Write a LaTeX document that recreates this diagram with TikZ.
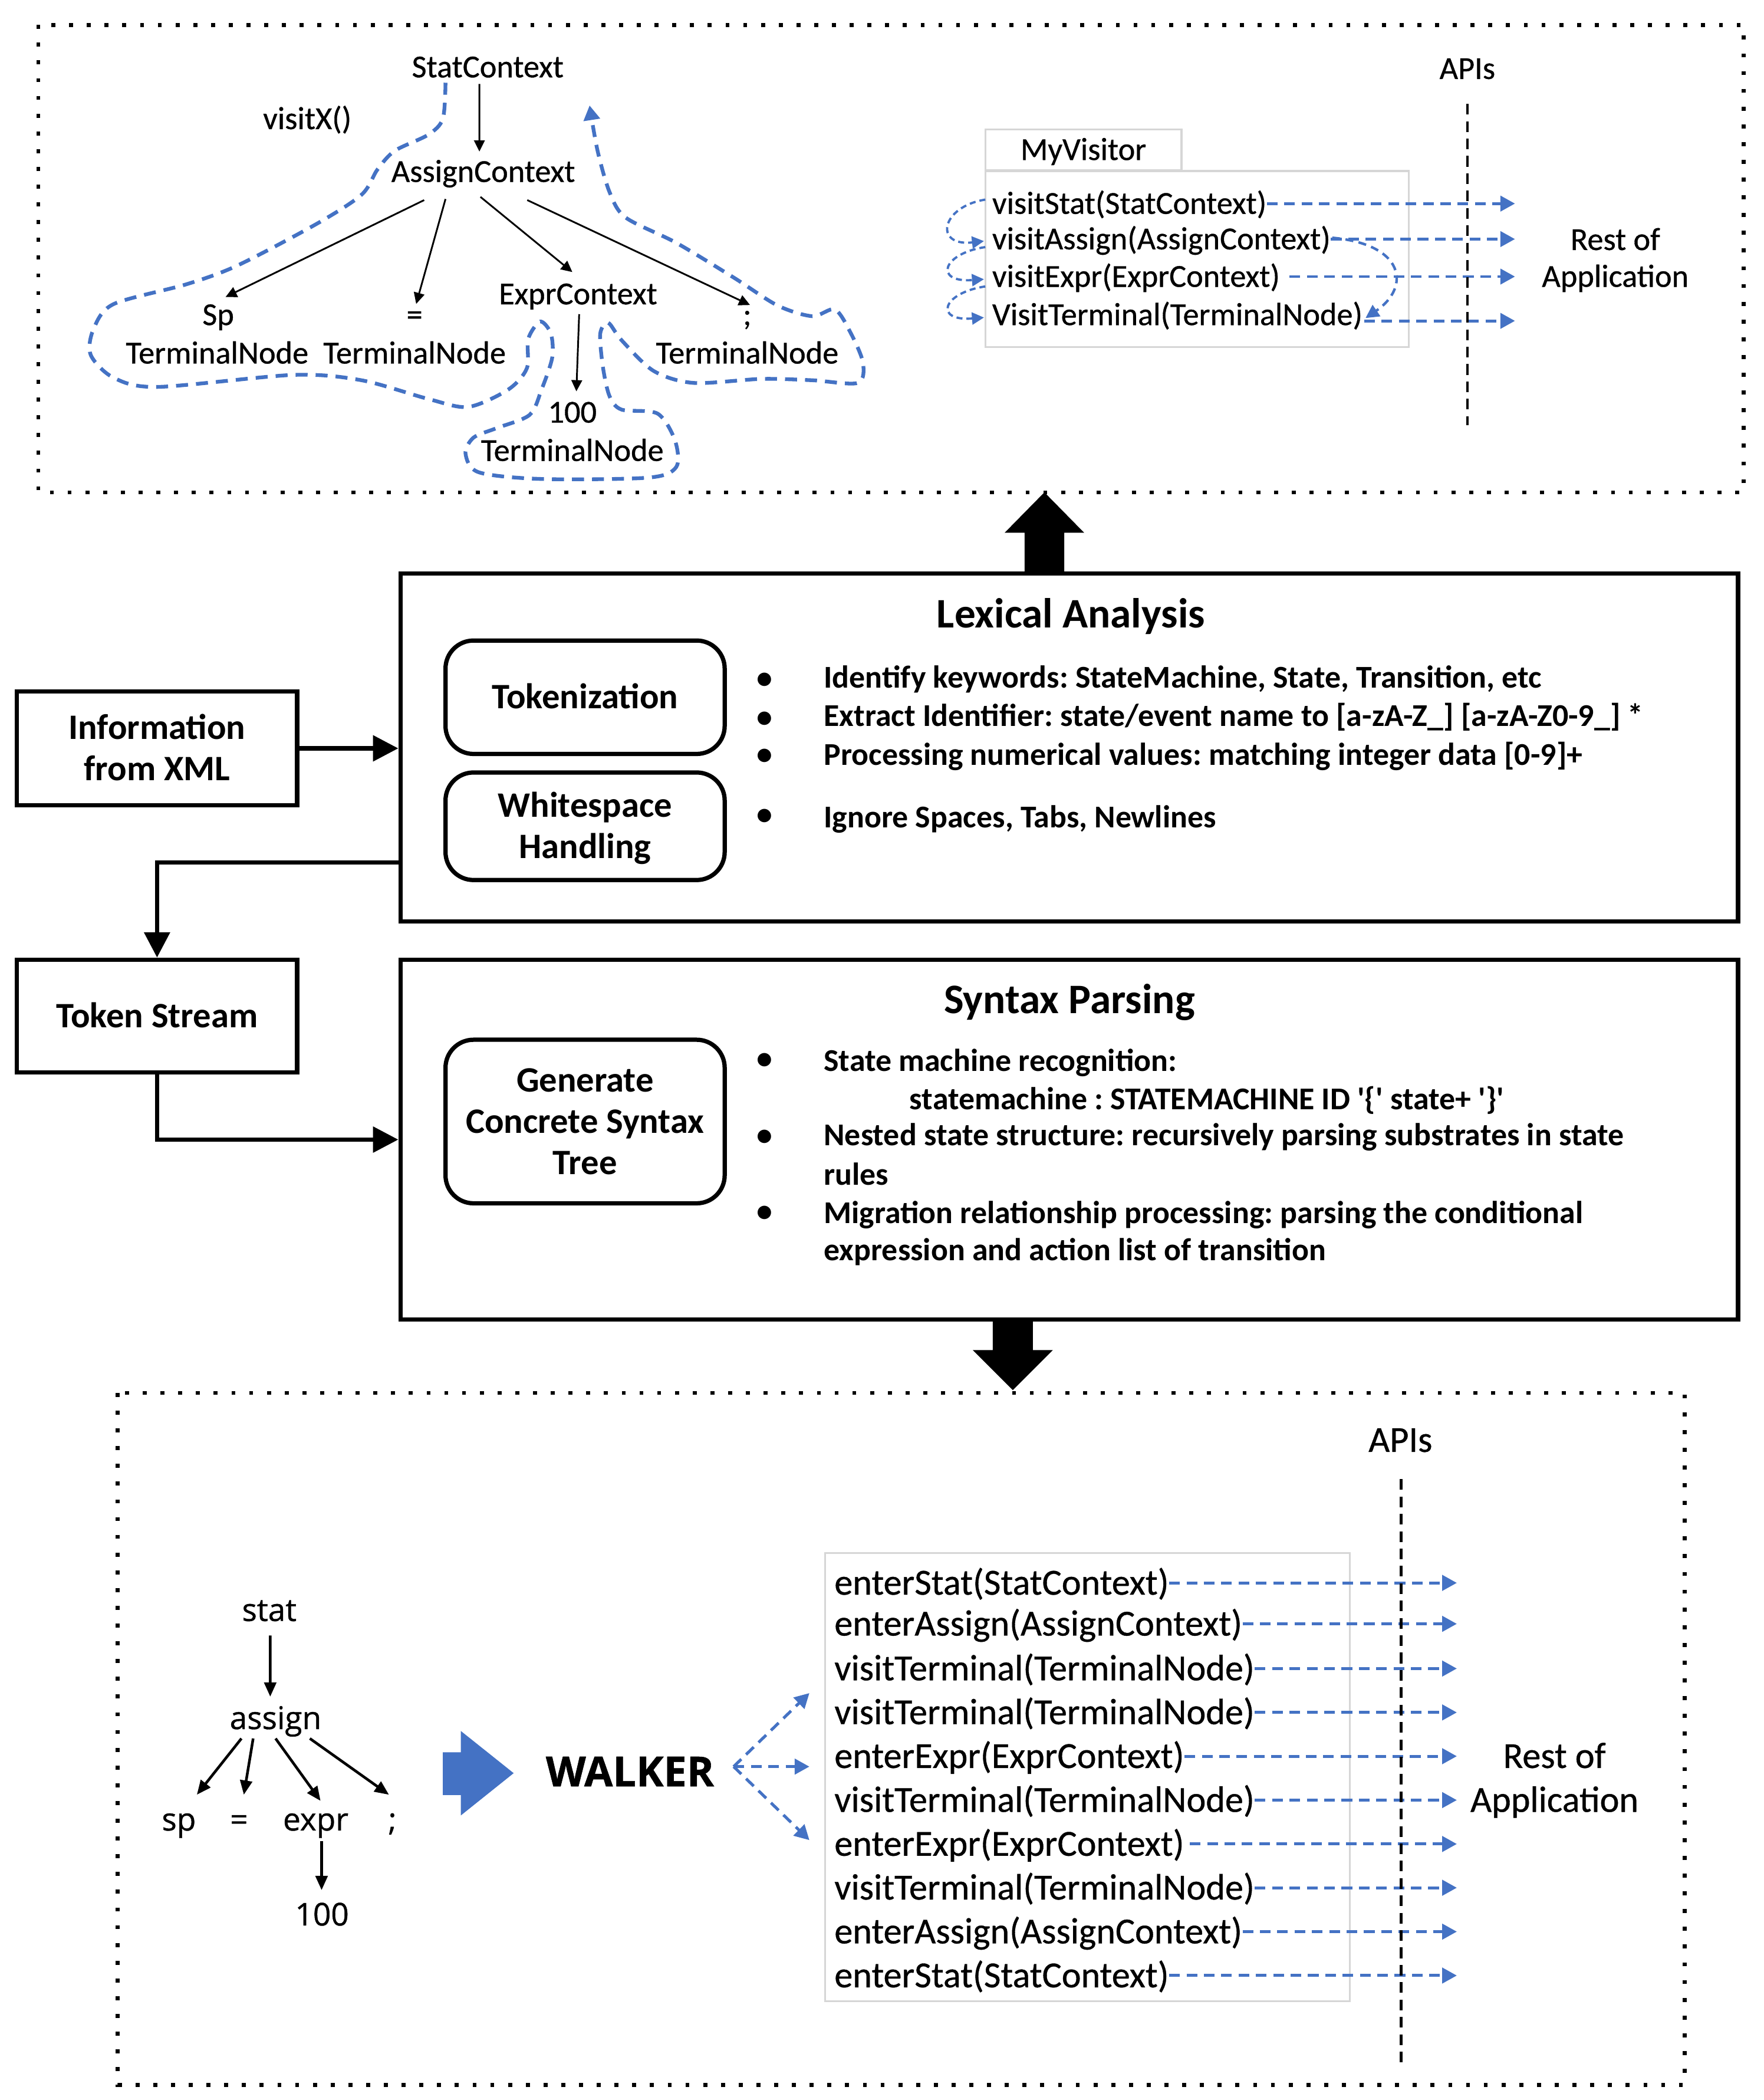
\documentclass[tikz,border=0pt]{standalone}
\usepackage{fontspec}
\setmainfont{Carlito}
\newfontfamily\osfont[FakeBold=0.8]{Open Sans}
\newfontfamily\cfb[FakeBold=0.6]{Carlito}
\usetikzlibrary{arrows.meta}
\definecolor{oblue}{HTML}{4472C4}
\definecolor{lgray}{HTML}{D6D6D6}
\frenchspacing
\newcommand{\ms}{\rule[-0.25em]{0pt}{1.14em}}
\newcommand{\mso}{\rule[-0.25em]{0pt}{1.22em}}
\tikzset{
 dotborder/.style={line width=3pt, dash pattern=on 3pt off 10.3pt},
 bigbox/.style={draw, line width=3.2pt, minimum width=1002.8pt, inner sep=0pt},
 sidebox/.style={draw, line width=3.2pt, minimum width=210.1pt, inner sep=0pt, align=center, font=\fontsize{26.8}{31}\selectfont\bfseries},
 rbox/.style={draw, line width=3.2pt, rounded corners=21pt, minimum width=209.3pt, inner sep=0pt, align=center, font=\fontsize{26.8}{31}\selectfont\bfseries},
 flow/.style={line width=3.2pt, -{Triangle[length=19pt,width=19pt]}},
 ttxt/.style={inner sep=0pt, font=\cfb\fontsize{24}{27.6}\selectfont},
 mtitle/.style={inner sep=0pt, font=\fontsize{31.5}{36}\selectfont\bfseries},
 mtxt/.style={inner sep=0pt, anchor=west, font=\fontsize{23.8}{28}\selectfont\bfseries},
 bul/.style={inner sep=0pt, font=\fontsize{23.8}{28}\selectfont\bfseries},
 btxt/.style={inner sep=0pt, font=\cfb\fontsize{27.5}{32.9}\selectfont},
 otxt/.style={inner sep=0pt, font=\osfont\fontsize{23.5}{28}\selectfont},
 tarrow/.style={line width=1.3pt, -{Triangle[length=8.4pt,width=8pt]}},
 oarrow/.style={line width=2pt, -{Triangle[length=10.7pt,width=9pt]}},
 bdash/.style={oblue, line width=2.2pt, dash pattern=on 8pt off 5pt, -{Triangle[length=11pt,width=11.5pt]}},
 bcurve/.style={oblue, line width=1.7pt, dash pattern=on 4.5pt off 3pt, -{Triangle[length=9pt,width=9pt]}},
 bcurvel/.style={oblue, line width=1.9pt, dash pattern=on 6pt off 4pt, -{Triangle[length=10pt,width=10pt]}},
 contour/.style={oblue, line width=2.8pt, dash pattern=on 9pt off 6pt, -{Triangle[length=11pt,width=12pt]}},
 apiline/.style={line width=2pt, dash pattern=on 8pt off 5pt},
 graybox/.style={draw=lgray, line width=1.4pt, inner sep=0pt},
}
\begin{document}
\begin{tikzpicture}[x=1pt,y=-1pt]
\useasboundingbox (0,0) rectangle (1322.1,1574);

% ---------------- top dotted region ----------------
\draw[dotborder] (28.7,18.7) rectangle (1307.3,369.1);

\node[ttxt] (sc) at (365.7,50.3) {\ms StatContext};
\node[ttxt] (vx) at (230.4,89.1) {\ms visitX()};
\node[ttxt] (ac) at (362.3,128.7) {\ms AssignContext};
\node[ttxt] (sp) at (163.6,236) {\ms Sp};
\node[ttxt] (tn1) at (162.8,264.8) {\ms TerminalNode};
\node[ttxt] (eq) at (310.8,236) {\ms =};
\node[ttxt] (tn2) at (310.8,264.8) {\ms TerminalNode};
\node[ttxt] (ec) at (433.4,220.4) {\ms ExprContext};
\node[ttxt] (semi) at (560.2,236) {\ms ;};
\node[ttxt] (tn3) at (560.2,264.8) {\ms TerminalNode};
\node[ttxt] (n100) at (429.1,309.1) {\ms 100};
\node[ttxt] (tn4) at (429.1,337.8) {\ms TerminalNode};

\draw[tarrow] ([shift={(-6.3,-1.2)}]sc.south) -- ([shift={(-2.9,-1.2)}]ac.north);
\draw[tarrow] ([shift={(-44.3,7.4)}]ac.south) -- ([shift={(5.5,0.5)}]sp.north);
\draw[tarrow] ([shift={(-28.3,6.6)}]ac.south) -- ([shift={(1.2,5.7)}]eq.north);
\draw[tarrow] ([shift={(-2.1,5)}]ac.south) -- ([shift={(-4.3,-2.6)}]ec.north);
\draw[tarrow] ([shift={(33,7.4)}]ac.south) -- ([shift={(2.1,6.5)}]semi.north);
\draw[tarrow] ([shift={(0.8,1.2)}]ec.south) -- ([shift={(3,-1.9)}]n100.north);

\draw[contour] plot[smooth, tension=0.5] coordinates {
 (334,62) (332,89) (321,101) (296,113) (283,127) (271,146) (237,168)
 (178,199) (140,213) (85,228) (70,247) (68,266) (85,283) (118,290)
 (220,281) (271,285) (321,299) (351,305) (381,292) (395,276) (396,254)
 (405,241) (413,250) (414,268) (406,292) (397,311) (372,321) (355,328)
 (349,340) (359,354) (406,359) (486,358) (507,350) (506,330) (493,310)
 (466,307) (457,297) (452,275) (450,250) (456,242) (466,255) (490,278)
 (520,287) (571,284) (609,285) (643,287) (647,272) (638,250) (626,232)
 (609,237) (583,229) (550,208) (507,182) (469,163) (457,144) (448,113) (442,79)};

\node[graybox, ttxt, minimum width=147.1pt, minimum height=30.5pt] (tab) at (812.25,112.25) {\ms MyVisitor};
\node[graybox, minimum width=317.3pt, minimum height=131.8pt] (vbox) at (897.35,194.1) {};
\node[ttxt, anchor=west] (v1) at (743.7,152.6) {\ms visitStat(StatContext)};
\node[ttxt, anchor=west] (v2) at (743.7,179.2) {\ms visitAssign(AssignContext)};
\node[ttxt, anchor=west] (v3) at (743.7,207.3) {\ms visitExpr(ExprContext)};
\node[ttxt, anchor=west] (v4) at (743.7,236) {\ms VisitTerminal(TerminalNode)};

\coordinate (tend) at (1135.8,0);
\coordinate (t3) at ([xshift=7pt]v3.east);
\coordinate (t4) at ([shift={(1,4.5)}]v4.east);
\draw[bdash] (v1.east) -- (v1.east -| tend);
\draw[bdash] (v2.east) -- (v2.east -| tend);
\draw[bdash] (t3) -- (t3 -| tend);
\draw[bdash] (t4) -- (t4 -| tend);

\draw[bcurve] ([shift={(-5,-3)}]v1.west) .. controls (705,155) and (700,185) .. ([shift={(-6,1.5)}]v2.west);
\draw[bcurve] ([shift={(-5,6)}]v2.west) .. controls (706,190) and (700,212) .. ([shift={(-6,2)}]v3.west);
\draw[bcurve] ([shift={(-5,7.4)}]v3.west) .. controls (706,219.5) and (700,241) .. ([shift={(-6,2)}]v4.west);
\draw[bcurvel] ([shift={(1,-1)}]v2.east) .. controls (1053,183) and (1058,215) .. ([shift={(2,2.4)}]v4.east);

\node[ttxt] (api1) at (1100.1,51.5) {\ms APIs};
\draw[apiline] (1100.1,77.9) -- (1100.1,318.7);
\node[ttxt, align=center] (rest1) at (1211,193.5) {\ms Rest of\\\ms Application};

% ---------------- middle ----------------
\fill (768.1,430) -- (768.1,399.3) -- (753.2,399.3) -- (783,369) -- (812.8,399.3) -- (797.9,399.3) -- (797.9,430) -- cycle;

\node[sidebox, minimum height=85.4pt] (info) at (117.75,560.9) {\ms Information\\\ms from XML};
\node[bigbox, minimum height=260.7pt] (lex) at (801.6,560.25) {};
\node[sidebox, minimum height=84.6pt] (tok) at (117.75,761.6) {\ms Token Stream};
\node[bigbox, minimum height=269.7pt] (syn) at (801.6,854.15) {};

\draw[flow] (info.east) -- (info.east -| lex.west);
\draw[flow] ([yshift=-86.25pt]lex.west) -| (tok.north);
\draw[flow] (tok.south) |- (syn.west);

\node[rbox, minimum height=85pt] (tkz) at (438.65,522.6) {\ms Tokenization};
\node[rbox, minimum height=80.6pt] (ws) at (438.65,619.3) {\ms Whitespace\\\ms Handling};
\node[rbox, minimum height=122.6pt] (gen) at (438.65,840.6) {\ms Generate\\\ms Concrete Syntax\\\ms Tree};

\node[mtitle] (lext) at (802.9,460.5) {\ms Lexical Analysis};
\node[mtitle] (synt) at (801.8,749.5) {\ms Syntax Parsing};

\node[bul] (bu1) at (573.3,508.3) {\ms •};
\node[bul] (bu2) at (573.3,537.4) {\ms •};
\node[bul] (bu3) at (573.3,565.6) {\ms •};
\node[bul] (bu4) at (573.3,610.5) {\ms •};
\node[bul] (bu5) at (573.3,793.6) {\ms •};
\node[bul] (bu6) at (573.3,850.8) {\ms •};
\node[bul] (bu7) at (573.3,908) {\ms •};

\node[mtxt] (l1) at (617.5,507.9) {\ms Identify keywords: StateMachine, State, Transition, etc};
\node[mtxt] (l2) at (617.5,536.6) {\ms Extract Identifier: state/event name to [a-zA-Z\_] [a-zA-Z0-9\_] *};
\node[mtxt] (l3) at (617.5,566) {\ms Processing numerical values: matching integer data [0-9]+};
\node[mtxt] (l4) at (617.5,612.6) {\ms Ignore Spaces, Tabs, Newlines};
\node[mtxt] (s1) at (617.5,795.2) {\ms State machine recognition:};
\node[mtxt] (s2) at (681.8,823.9) {\ms statemachine : STATEMACHINE ID \textquotesingle\{\textquotesingle{} state+ \textquotesingle\}\textquotesingle};
\node[mtxt] (s3) at (617.5,851) {\ms Nested state structure: recursively parsing substrates in state};
\node[mtxt] (s4) at (617.5,880.6) {\ms rules};
\node[mtxt] (s5) at (617.5,909.3) {\ms Migration relationship processing: parsing the conditional};
\node[mtxt] (s6) at (617.5,937.2) {\ms expression and action list of transition};

\fill (744.3,989) -- (744.3,1011.9) -- (729.3,1011.9) -- (759.3,1041.9) -- (789.3,1011.9) -- (774.3,1011.9) -- (774.3,989) -- cycle;

% ---------------- bottom dotted region ----------------
\draw[dotborder] (88.3,1044) rectangle (1262.9,1562.7);

\node[otxt] (st) at (201.9,1206.5) {\mso stat};
\node[otxt] (as) at (206.6,1287.5) {\mso assign};
\node[otxt] (bsp) at (134.1,1363.5) {\mso sp};
\node[otxt] (beq) at (179.2,1363.5) {\mso =};
\node[otxt] (bex) at (236.7,1363.5) {\mso expr};
\node[otxt] (bsc) at (294.2,1363.5) {\mso ;};
\node[otxt] (b100) at (241.4,1434.7) {\mso 100};

\draw[oarrow] ([shift={(0.7,4.8)}]st.south) -- ([shift={(-4,-1.3)}]as.north);
\draw[oarrow] ([shift={(-25.6,1)}]as.south) -- ([shift={(13.5,-3.8)}]bsp.north);
\draw[oarrow] ([shift={(-16.8,1)}]as.south) -- ([shift={(3.6,-3.8)}]beq.north);
\draw[oarrow] ([shift={(0,1)}]as.south) -- ([shift={(3.6,0.8)}]bex.north);
\draw[oarrow] ([shift={(25.7,1)}]as.south) -- ([shift={(-2.6,-3.8)}]bsc.north);
\draw[oarrow] ([shift={(4.4,2.1)}]bex.south) -- ([shift={(-0.3,-3.5)}]b100.north);

\fill[oblue] (332,1313.4) -- (345.5,1313.4) -- (345.5,1297.4) -- (385.1,1329) -- (345.5,1360.7) -- (345.5,1345.4) -- (332,1345.4) -- cycle;

\node[otxt, font=\osfont\bfseries\fontsize{31}{36}\selectfont] (walk) at (472.3,1327.7) {\mso WALKER};
\coordinate (wa) at (550,1324.1);
\coordinate (w1) at (606.8,1269);
\coordinate (w2) at (606.8,1324.1);
\coordinate (w3) at (606.8,1379.2);
\draw[bdash] (wa) -- (w1);
\draw[bdash] (wa) -- (w2);
\draw[bdash] (wa) -- (w3);

\node[graybox, minimum width=393.2pt, minimum height=336pt] (lbox) at (815.3,1332) {};
\node[btxt, anchor=west] (e1) at (625.4,1186.4) {\ms enterStat(StatContext)};
\node[btxt, anchor=west] (e2) at (625.4,1217.1) {\ms enterAssign(AssignContext)};
\node[btxt, anchor=west] (e3) at (625.4,1250.6) {\ms visitTerminal(TerminalNode)};
\node[btxt, anchor=west] (e4) at (625.4,1283.5) {\ms visitTerminal(TerminalNode)};
\node[btxt, anchor=west] (e5) at (625.4,1316.3) {\ms enterExpr(ExprContext)};
\node[btxt, anchor=west] (e6) at (625.4,1349.2) {\ms visitTerminal(TerminalNode)};
\node[btxt, anchor=west] (e7) at (625.4,1382.1) {\ms enterExpr(ExprContext)};
\node[btxt, anchor=west] (e8) at (625.4,1414.9) {\ms visitTerminal(TerminalNode)};
\node[btxt, anchor=west] (e9) at (625.4,1447.8) {\ms enterAssign(AssignContext)};
\node[btxt, anchor=west] (e10) at (625.4,1480.7) {\ms enterStat(StatContext)};

\coordinate (bend) at (1092.2,0);
\coordinate (e7s) at ([xshift=4pt]e7.east);
\draw[bdash] (e1.east) -- (e1.east -| bend);
\draw[bdash] (e2.east) -- (e2.east -| bend);
\draw[bdash] (e3.east) -- (e3.east -| bend);
\draw[bdash] (e4.east) -- (e4.east -| bend);
\draw[bdash] (e5.east) -- (e5.east -| bend);
\draw[bdash] (e6.east) -- (e6.east -| bend);
\draw[bdash] (e7s) -- (e7s -| bend);
\draw[bdash] (e8.east) -- (e8.east -| bend);
\draw[bdash] (e9.east) -- (e9.east -| bend);
\draw[bdash] (e10.east) -- (e10.east -| bend);

\node[btxt] (api2) at (1049.9,1079.4) {\ms APIs};
\draw[apiline] (1050.4,1108.7) -- (1050.4,1550);
\node[btxt, align=center] (rest2) at (1165.4,1332.75) {\ms Rest of\\\ms Application};

\end{tikzpicture}
\end{document}
